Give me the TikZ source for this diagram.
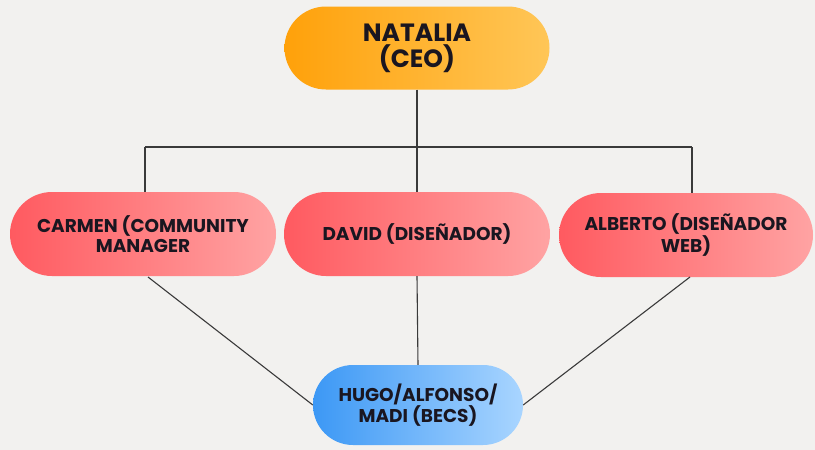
\documentclass[tikz,border=0pt]{standalone}
\usepackage{fontspec}
\setmainfont{Poppins}
\usetikzlibrary{shapes.misc}
\definecolor{bg}{HTML}{F2F1EF}
\definecolor{ln}{HTML}{3A3A3A}
\definecolor{txt}{HTML}{1A1620}
\definecolor{orA}{HTML}{FFA10A}
\definecolor{orB}{HTML}{FFC657}
\definecolor{rdA}{HTML}{FF5A60}
\definecolor{rdB}{HTML}{FFA3A3}
\definecolor{blA}{HTML}{3C98F5}
\definecolor{blB}{HTML}{A9D5FF}
\tikzset{
  pill/.style={rounded rectangle, inner sep=0pt, align=center, text=txt,
    font=\bfseries\fontsize{18.5}{19.5}\selectfont},
  orangebox/.style={pill, left color=orA, right color=orB, minimum width=265pt, minimum height=83pt,
    font=\bfseries\fontsize{25}{26}\selectfont},
  redbox/.style={pill, left color=rdA, right color=rdB, minimum width=266pt, minimum height=84pt},
  bluebox/.style={pill, left color=blA, right color=blB, minimum width=210pt, minimum height=80pt},
  conn/.style={draw=ln, line width=1.1pt}
}
\begin{document}
\begin{tikzpicture}[x=1pt,y=-1pt]
\fill[bg] (0,0) rectangle (815,450);
\useasboundingbox (0,0) rectangle (815,450);
\coordinate (jl) at (145,147);
\coordinate (jm) at (417,147);
\coordinate (jr) at (692,147);
\coordinate (cs) at (148,277);
\coordinate (as) at (690,277);
\node[orangebox] (ceo) at (417,48) {NATALIA\\(CEO)};
\node[redbox] (carmen) at (143,234) {CARMEN (COMMUNITY\\MANAGER};
\node[redbox] (david) at (417,234) {DAVID (DISEÑADOR)};
\node[redbox, minimum width=254pt] (alberto) at (686,235) {ALBERTO (DISEÑADOR\\WEB)};
\node[bluebox] (hugo) at (418,405) {HUGO/ALFONSO/\\MADI (BECS)};
\draw[conn] (ceo.south) -- (jm);
\draw[conn] (jl) -- (jr);
\draw[conn] (jl) -- (jl |- carmen.north);
\draw[conn] (jr) -- (jr |- alberto.north);
\draw[conn] (jm) -- (jm |- david.north);
\draw[conn] (david.south) -- (hugo.north);
\draw[conn] (cs) -- (hugo.west);
\draw[conn] (as) -- (hugo.east);
\end{tikzpicture}
\end{document}
